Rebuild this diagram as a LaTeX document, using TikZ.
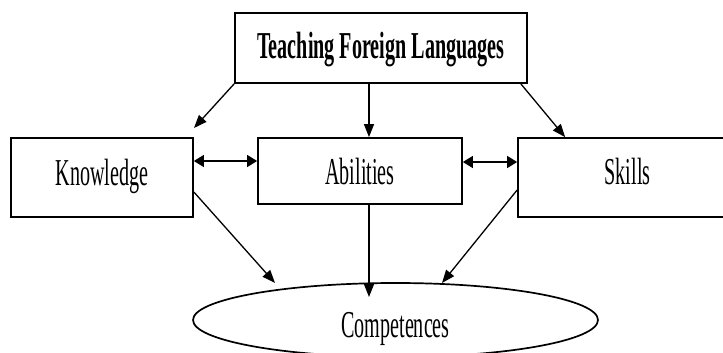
\documentclass[tikz,border=0pt]{standalone}
\usepackage{fontspec}
\setmainfont[FakeStretch=0.53]{Liberation Serif}
\usetikzlibrary{arrows.meta,shapes.geometric}
\begin{document}
\begin{tikzpicture}[x=1pt,y=-1pt,
  box/.style={draw, line width=1.7pt, inner sep=0pt, text depth=8pt},
  lbl/.style={font=\fontsize{38}{40}\selectfont},
  conn/.style={line width=1.3pt, -{Triangle[length=13pt,width=10pt]}},
  biconn/.style={line width=1.3pt, {Triangle[length=10pt,width=12pt]}-{Triangle[length=10pt,width=12pt]}}]
\clip (0,0) rectangle (723,353);
\node[box, font={\fontsize{38}{40}\selectfont\bfseries}, minimum width=292pt, minimum height=70pt, text height=30pt] (top) at (381,48) {Teaching Foreign Languages};
\node[box, lbl, minimum width=182pt, minimum height=79pt, text height=23pt] (know) at (102,177.5) {Knowledge};
\node[box, lbl, minimum width=204pt, minimum height=66pt, text height=34pt] (abil) at (360,171) {Abilities};
\node[box, lbl, minimum width=219pt, minimum height=79pt, text height=21pt] (skill) at (627.5,177.5) {Skills};
\node[ellipse, draw, line width=1.7pt, inner sep=0pt, lbl, minimum width=405pt, minimum height=74pt, text depth=8pt, text height=42pt] (comp) at (395.5,320) {Competences};
% coordinates for connector ends
\coordinate (kt) at (194,128);
\path (top.south) ++(-12,0) coordinate (ta1);
\path (abil.north) ++(9,0) coordinate (ta2);
\path (top.south east) ++(-7,0) coordinate (ts1);
\path (skill.north west) ++(48,0) coordinate (ts2);
\path (know.east) ++(0,-16.5) coordinate (ka1);
\path (abil.west) ++(0,-10) coordinate (ka2);
\path (abil.east) ++(0,-9) coordinate (as1);
\path (skill.west) ++(0,-15.5) coordinate (as2);
\path (know.east) ++(0,14.5) coordinate (kc1);
\coordinate (kc2) at (275,283);
\path (abil.south) ++(9,0) coordinate (ac1);
\coordinate (ac2) at (369,297);
\path (skill.west) ++(0,12.5) coordinate (sc1);
\coordinate (sc2) at (442,283);
% connectors
\draw[conn] (top.south west) -- (kt);
\draw[conn] (ta1) -- (ta2);
\draw[conn] (ts1) -- (ts2);
\draw[biconn] (ka1) -- (ka2);
\draw[biconn] (as1) -- (as2);
\draw[conn] (kc1) -- (kc2);
\draw[conn] (ac1) -- (ac2);
\draw[conn] (sc1) -- (sc2);
\end{tikzpicture}
\end{document}
